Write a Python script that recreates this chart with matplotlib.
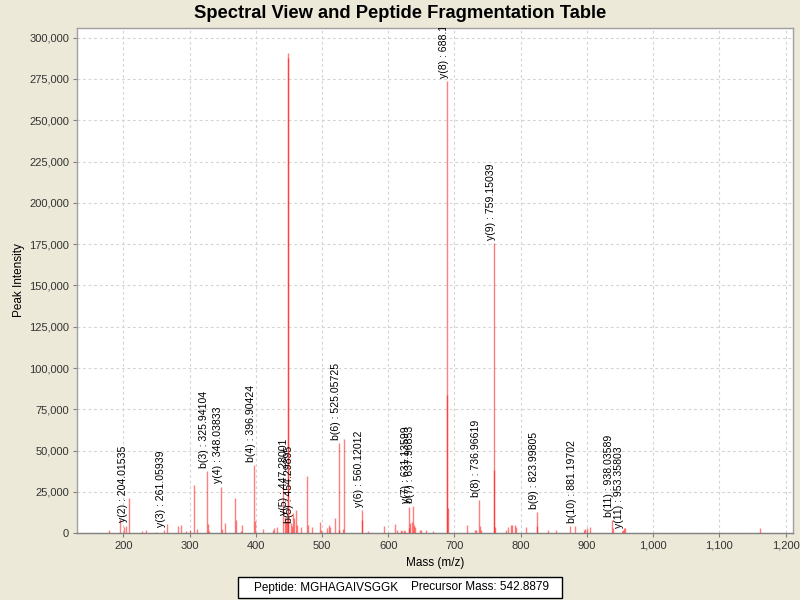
import matplotlib
matplotlib.use('Agg')
import matplotlib.pyplot as plt
from matplotlib.ticker import FuncFormatter, MultipleLocator
from matplotlib.patches import Rectangle

plt.rcParams['font.family'] = ['Liberation Sans', 'DejaVu Sans']

# peak list (m/z, intensity)
peak_mz = [178.4, 195.0, 201.5, 204.02, 209.0, 227.8, 234.3, 249.0, 261.06, 266.0,
           282.0, 287.0, 294.7, 301.0, 307.5, 311.0, 325.94, 327.5, 330.0, 348.04,
           349.6, 354.0, 369.0, 370.6, 378.0, 379.6, 396.90, 398.3, 411.4, 426.5,
           428.0, 432.0, 440.6, 444.0, 446.0, 447.28, 449.0, 449.1, 452.7, 454.30,
           455.5, 457.0, 460.2, 461.5, 469.0, 477.3, 479.0, 485.3, 497.0, 498.5,
           508.0, 510.0, 511.5, 519.6, 525.06, 526.0, 531.0, 533.7, 560.12, 561.0,
           570.0, 594.0, 610.0, 612.5, 619.0, 621.0, 623.5, 625.7, 631.14, 632.0,
           633.5, 635.3, 637.97, 639.5, 641.0, 648.0, 650.0, 657.0, 668.0, 688.0,
           688.15, 690.0, 718.4, 731.0, 733.0, 736.97, 738.0, 740.0, 759.0, 759.15,
           760.5, 778.0, 781.0, 785.3, 787.0, 791.4, 793.0, 807.5, 824.0, 825.0,
           840.7, 852.8, 874.4, 881.2, 895.5, 897.5, 900.0, 905.0, 938.04, 939.0,
           953.36, 954.0, 956.0, 957.0, 1161.0]
peak_int = [2000, 8500, 3600, 4600, 21400, 1400, 2000, 1000, 2000, 5800,
            4200, 5000, 1600, 2000, 29000, 2600, 37500, 5600, 1100, 28200,
            2400, 6200, 21500, 8000, 1600, 5000, 41200, 7200, 2400, 2200,
            2900, 3600, 28000, 10000, 7000, 9000, 290500, 288000, 6000, 4200,
            12000, 9000, 14000, 5000, 4000, 34500, 5000, 4000, 7000, 2000,
            3000, 5000, 4000, 9500, 54800, 2000, 2500, 56800, 14200, 8000,
            1300, 4200, 5500, 1800, 1800, 1400, 2200, 1400, 16200, 3000,
            6000, 6600, 16300, 5200, 3600, 2200, 1800, 2000, 1600, 84000,
            273500, 15000, 4800, 1800, 1800, 20000, 4500, 1800, 38300, 175500,
            3800, 2200, 3600, 4800, 5000, 4800, 3500, 3800, 13000, 4200,
            2000, 2000, 4400, 4500, 2000, 2600, 3200, 4000, 8000, 3200,
            1500, 2000, 3200, 3200, 3000]

# fragment ion annotations
ann_text = ['y(2) : 204.01535', 'y(3) : 261.05939', 'b(3) : 325.94104', 'y(4) : 348.03833',
            'b(4) : 396.90424', 'y(5) : 447.28001', 'b(5) : 454.29895', 'b(6) : 525.05725',
            'y(6) : 560.12012', 'y(7) : 631.13599', 'b(7) : 637.96853', 'y(8) : 688.14563',
            'b(8) : 736.96619', 'y(9) : 759.15039', 'b(9) : 823.99805', 'b(10) : 881.19702',
            'b(11) : 938.03589', 'y(11) : 953.35803']
ann_mz = [204.02, 261.06, 325.94, 348.04, 396.90, 447.28, 454.30, 525.06, 560.12, 631.14,
          637.97, 688.15, 736.97, 759.15, 824.0, 881.2, 938.04, 953.36]
ann_int = [4600, 2000, 37500, 28200, 41200, 9000, 4200, 54800, 14200, 16200,
           16300, 273500, 20000, 175500, 13000, 4500, 8000, 1500]

peptide = 'MGHAGAIVSGGK'
precursor = 542.8879

bg = '#ECE9D8'
fig = plt.figure(figsize=(8, 6), dpi=100, facecolor=bg)
ax = fig.add_axes([0.0959, 0.1112, 0.895, 0.8417])
ax.set_facecolor('white')

ax.vlines(peak_mz, 0, peak_int, colors='red', alpha=0.5, linewidth=1.0, zorder=3)

for t, x, y in zip(ann_text, ann_mz, ann_int):
    a = ax.annotate(t, (x, y), xytext=(0, 2.3), textcoords='offset points',
                    rotation=90, rotation_mode='anchor', ha='left', va='baseline',
                    fontsize=7.6, color='black', zorder=4)
    a.set_clip_on(True)
    a.set_clip_path(ax.patch)

ax.set_xlim(129.7, 1210.6)
ax.set_ylim(0, 305700)
ax.xaxis.set_major_locator(MultipleLocator(100))
ax.yaxis.set_major_locator(MultipleLocator(25000))
ax.xaxis.set_major_formatter(FuncFormatter(lambda v, p: f'{v:,.0f}'))
ax.yaxis.set_major_formatter(FuncFormatter(lambda v, p: f'{v:,.0f}'))

ax.grid(True, color='#D4D4D4', linestyle=(0, (2.5, 2.5)), linewidth=0.8, zorder=0)
ax.set_axisbelow(True)
ax.tick_params(direction='out', length=3, width=0.8, color='#808080',
               labelsize=8, labelcolor='#333333', pad=2.5)
for s in ax.spines.values():
    s.set_color('#A0A0A0')
    s.set_linewidth(1.0)
ax.spines['bottom'].set_color('#808080')

fig.text(0.5, 1 - 13 / 600, 'Spectral View and Peptide Fragmentation Table',
         ha='center', va='center', fontsize=13.2, fontweight='bold')
fig.text(434.7 / 800, 1 - 563 / 600, 'Mass (m/z)', ha='center', va='center', fontsize=8.5)
fig.text(19 / 800, 1 - 280 / 600, 'Peak Intensity', ha='center', va='center',
         rotation=90, fontsize=8.5)

# peptide info box
fig.add_artist(Rectangle((238 / 800, 1 - 598 / 600), 324 / 800, 21 / 600,
                         transform=fig.transFigure, facecolor='white',
                         edgecolor='black', linewidth=1))
fig.text(254 / 800, 1 - 587.5 / 600, f'Peptide: {peptide}', ha='left', va='center', fontsize=8.5)
fig.text(549 / 800, 1 - 587.5 / 600, f'Precursor Mass: {precursor}', ha='right', va='center',
         fontsize=8.5)

fig.savefig('out.png', dpi=100, facecolor=bg)
